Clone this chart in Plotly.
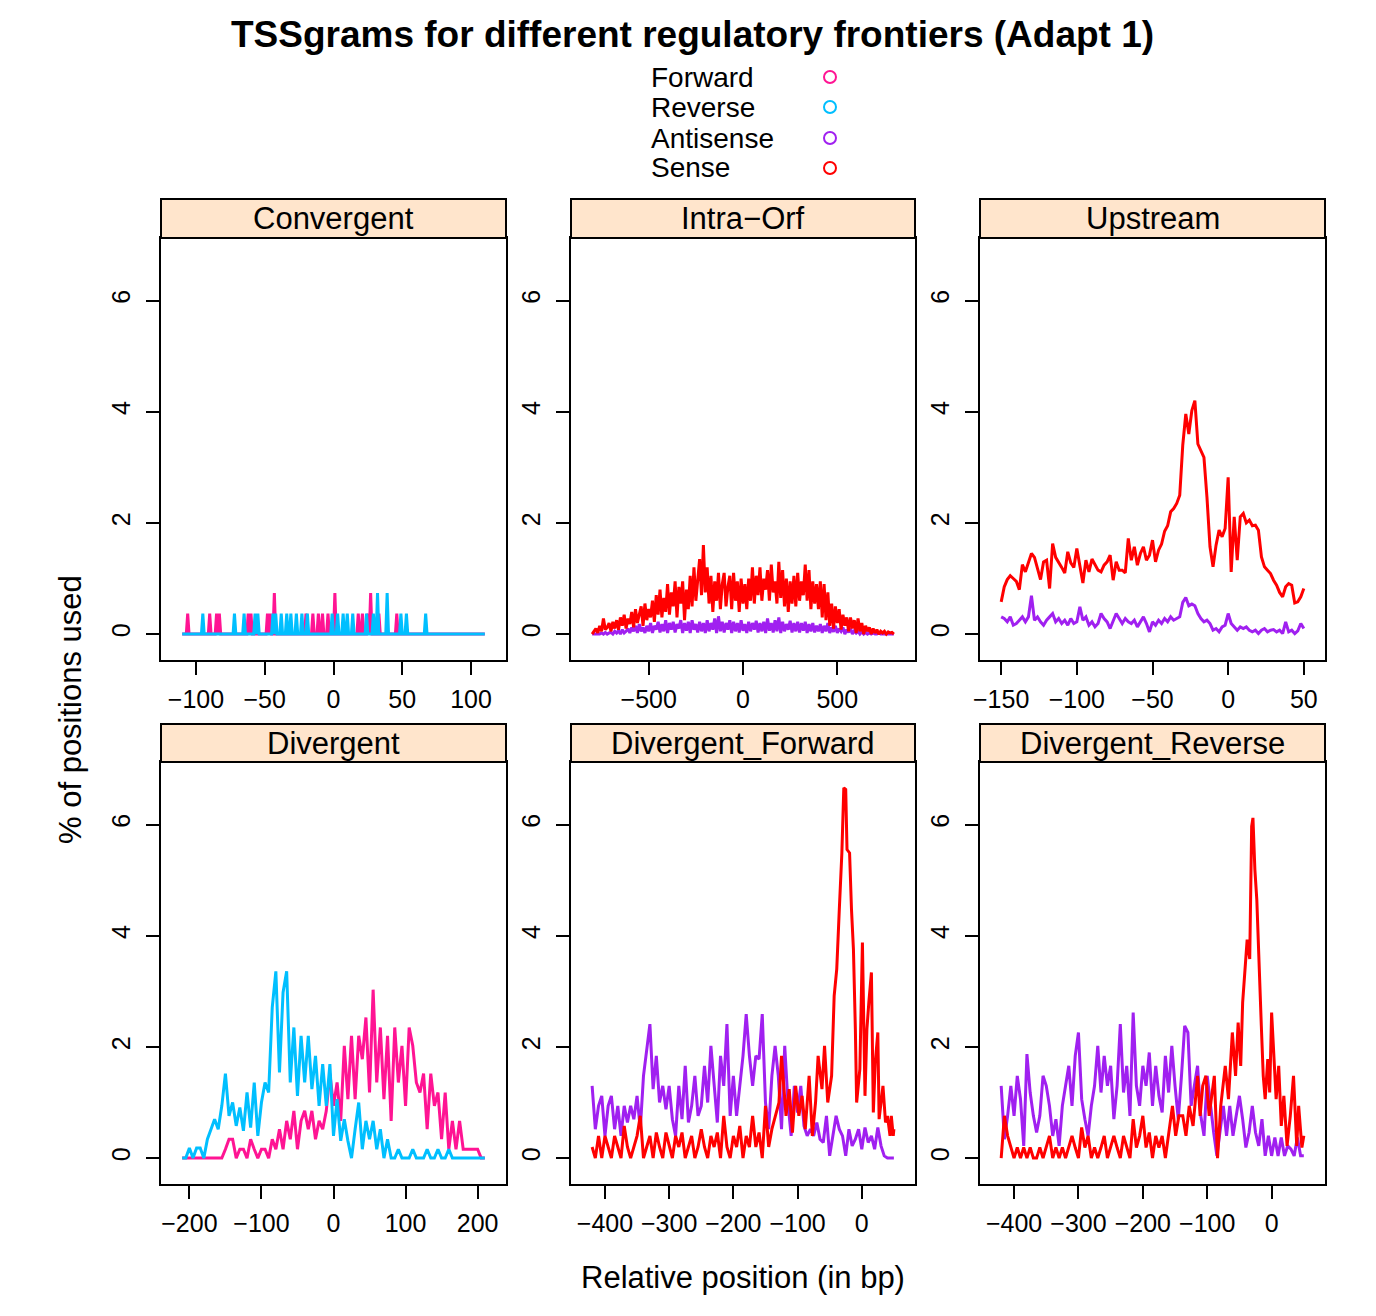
import plotly.graph_objects as go

W, H = 1376, 1316
FONT = "Liberation Sans"

FWD = "#FF1493"   # Forward
REV = "#00BFFF"   # Reverse
ANTI = "#A020F0"  # Antisense
SENSE = "#FF0000" # Sense

# ---------------- Convergent: 1 bp profile, zero except at these positions
conv_x = list(range(-110, 111))
conv_fwd_pos = [-106, -90, -85, -83, -62, -60, -48, -46, -43, -20, -15, -11, -8, -4,
                1, 18, 21, 25, 27, 33, 46]
conv_fwd_val = [0.37, 0.37, 0.37, 0.37, 0.37, 0.37, 0.37, 0.37, 0.74, 0.37, 0.37, 0.37, 0.37, 0.37,
                0.74, 0.37, 0.37, 0.37, 0.74, 0.37, 0.37]
conv_rev_pos = [-95, -72, -65, -57, -55, -44, -42, -38, -34, -31, -27, -23, -19, -1, 3, 7, 10,
                14, 24, 29, 32, 39, 49, 53, 67]
conv_rev_val = [0.37, 0.37, 0.37, 0.37, 0.37, 0.37, 0.37, 0.37, 0.37, 0.37, 0.37, 0.37, 0.37,
                0.37, 0.37, 0.37, 0.37, 0.37, 0.37, 0.37, 0.74, 0.74, 0.37, 0.37, 0.37]

# ---------------- Intra-Orf: every 10 bp from -800 to 800
orf_x = list(range(-800, 801, 10))
orf_sense = [
    0.0, 0.05, 0.1, 0.02, 0.15, 0.05, 0.28, 0.08, 0.12, 0.2,
    0.05, 0.22, 0.1, 0.25, 0.08, 0.3, 0.15, 0.35, 0.1, 0.28,
    0.18, 0.4, 0.12, 0.45, 0.2, 0.35, 0.5, 0.15, 0.55, 0.25,
    0.45, 0.3, 0.6, 0.22, 0.7, 0.35, 0.8, 0.3, 0.65, 0.4,
    0.9, 0.35, 0.75, 0.5, 0.95, 0.3, 0.85, 0.55, 0.95, 0.25,
    0.8, 0.45, 1.05, 0.5, 1.2, 0.6, 0.95, 1.35, 0.7, 1.6,
    0.75, 1.2, 0.55, 1.05, 0.4, 0.95, 0.6, 1.1, 0.45, 0.9,
    1.1, 0.5, 0.85, 1.05, 0.45, 1.1, 0.6, 0.95, 0.4, 1.0,
    0.55, 0.9, 0.45, 1.0, 0.6, 1.2, 0.55, 1.05, 0.7, 1.2,
    0.6, 1.0, 0.8, 1.15, 0.6, 1.25, 0.75, 0.95, 0.55, 1.3,
    0.65, 1.15, 0.5, 1.0, 0.4, 0.95, 0.55, 1.05, 0.5, 1.1,
    0.6, 0.95, 0.7, 1.25, 0.6, 1.15, 0.45, 0.95, 0.55, 0.9,
    0.45, 0.95, 0.3, 0.9, 0.25, 0.75, 0.15, 0.55, 0.1, 0.5,
    0.2, 0.45, 0.08, 0.35, 0.15, 0.3, 0.05, 0.3, 0.1, 0.25,
    0.02, 0.28, 0.05, 0.2, 0.0, 0.15, 0.05, 0.12, 0.0, 0.1,
    0.02, 0.08, 0.0, 0.05, 0.02, 0.05, 0.0, 0.04, 0.02, 0.03,
    0.0,
]
orf_anti = [
    0, 0, 0, 0, 0, 0.02, 0, 0.03, 0, 0.02,
    0.03, 0, 0.05, 0.02, 0.06, 0.0, 0.08, 0.02, 0.05, 0.1,
    0.02, 0.12, 0.05, 0.15, 0.02, 0.18, 0.05, 0.12, 0.02, 0.15,
    0.05, 0.2, 0.02, 0.15, 0.08, 0.22, 0.03, 0.18, 0.05, 0.25,
    0.02, 0.2, 0.08, 0.22, 0.03, 0.18, 0.1, 0.25, 0.02, 0.2,
    0.06, 0.22, 0.02, 0.25, 0.08, 0.18, 0.03, 0.22, 0.05, 0.2,
    0.02, 0.25, 0.05, 0.2, 0.08, 0.28, 0.02, 0.32, 0.05, 0.22,
    0.03, 0.2, 0.08, 0.25, 0.02, 0.22, 0.05, 0.2, 0.03, 0.25,
    0.06, 0.18, 0.02, 0.22, 0.05, 0.2, 0.08, 0.24, 0.03, 0.2,
    0.05, 0.22, 0.02, 0.28, 0.06, 0.2, 0.03, 0.25, 0.05, 0.3,
    0.02, 0.22, 0.05, 0.18, 0.08, 0.24, 0.03, 0.2, 0.05, 0.22,
    0.03, 0.2, 0.06, 0.22, 0.02, 0.18, 0.05, 0.2, 0.03, 0.15,
    0.05, 0.18, 0.02, 0.15, 0.05, 0.2, 0.02, 0.12, 0.04, 0.15,
    0.02, 0.1, 0.05, 0.12, 0.0, 0.08, 0.03, 0.1, 0.0, 0.06,
    0.02, 0.05, 0.0, 0.04, 0.0, 0.03, 0.0, 0.02, 0.0, 0.02,
    0, 0, 0.02, 0, 0, 0, 0, 0, 0, 0,
    0,
]

# ---------------- Upstream: every 2 bp from -150 to 50
up_x = list(range(-150, 51, 2))
up_sense = [
    0.58, 0.85, 0.98, 1.05, 1.0, 0.95, 0.80, 1.25, 1.12, 1.30,
    1.45, 1.38, 1.20, 0.98, 1.30, 1.33, 0.82, 1.63, 1.38, 1.30,
    1.20, 1.10, 1.48, 1.28, 1.20, 1.54, 1.20, 0.92, 1.33, 1.12,
    1.35, 1.25, 1.15, 1.12, 1.24, 1.30, 1.42, 0.97, 1.30, 1.15,
    1.15, 1.10, 1.72, 1.33, 1.57, 1.24, 1.45, 1.57, 1.33, 1.42,
    1.69, 1.30, 1.51, 1.62, 1.85, 1.95, 2.20, 2.26, 2.35, 2.50,
    3.40, 3.96, 3.60, 4.02, 4.20, 3.42, 3.30, 3.18, 2.46, 1.57,
    1.21, 1.60, 1.87, 1.75, 1.90, 2.82, 1.12, 2.11, 1.33, 2.11,
    2.17, 2.00, 2.05, 1.95, 1.96, 1.87, 1.39, 1.21, 1.15, 1.09,
    0.97, 0.88, 0.75, 0.67, 0.85, 0.91, 0.88, 0.56, 0.58, 0.67,
    0.82,
]
up_anti = [
    0.31, 0.28, 0.22, 0.31, 0.16, 0.19, 0.25, 0.31, 0.22, 0.31,
    0.69, 0.25, 0.31, 0.22, 0.16, 0.25, 0.31, 0.37, 0.22, 0.28,
    0.19, 0.25, 0.16, 0.28, 0.19, 0.22, 0.49, 0.25, 0.31, 0.16,
    0.22, 0.13, 0.19, 0.37, 0.28, 0.22, 0.10, 0.25, 0.37, 0.28,
    0.19, 0.28, 0.22, 0.19, 0.25, 0.13, 0.22, 0.31, 0.19, 0.04,
    0.22, 0.16, 0.25, 0.19, 0.28, 0.22, 0.31, 0.25, 0.28, 0.31,
    0.57, 0.66, 0.51, 0.54, 0.51, 0.37, 0.28, 0.22, 0.25, 0.19,
    0.07, 0.10, 0.04, 0.13, 0.16, 0.37, 0.19, 0.13, 0.07, 0.13,
    0.10, 0.13, 0.07, 0.04, 0.07, 0.01, 0.07, 0.10, 0.04, 0.07,
    0.08, 0.04, 0.07, 0.01, 0.22, 0.04, 0.07, 0.01, 0.06, 0.19,
    0.10,
]

# ---------------- Divergent: every 5 bp from -210 to 210
div_x = list(range(-210, 211, 5))
div_fwd = [
    0, 0, 0, 0, 0, 0, 0, 0, 0, 0,
    0, 0, 0.16, 0.34, 0.34, 0.0, 0.16, 0.16, 0.0, 0.34,
    0.16, 0.0, 0.16, 0.16, 0.0, 0.34, 0.16, 0.52, 0.16, 0.67,
    0.34, 0.85, 0.16, 0.67, 0.85, 0.52, 0.85, 0.34, 0.67, 0.52,
    0.85, 1.52, 0.94, 1.36, 0.67, 2.02, 1.06, 2.20, 1.06, 2.20,
    1.78, 2.53, 1.18, 3.03, 1.36, 2.35, 1.06, 2.20, 0.67, 2.35,
    1.36, 2.02, 0.94, 2.35, 2.02, 1.36, 1.18, 1.52, 0.52, 1.52,
    0.94, 1.18, 0.34, 1.18, 0.16, 0.67, 0.16, 0.67, 0.16, 0.16,
    0.16, 0.16, 0.16, 0, 0,
]
div_rev = [
    0, 0, 0.18, 0, 0.18, 0.18, 0.0, 0.34, 0.52, 0.70,
    0.52, 0.94, 1.52, 0.76, 1.0, 0.58, 0.91, 0.49, 1.18, 0.55,
    1.36, 0.40, 1.0, 1.36, 1.18, 2.71, 3.36, 1.54, 2.98, 3.36,
    1.36, 2.35, 1.12, 2.20, 1.36, 2.20, 1.24, 1.84, 0.94, 1.69,
    0.94, 1.69, 0.40, 1.06, 0.31, 0.70, 0.31, 0.0, 0.52, 1.0,
    0.16, 0.67, 0.34, 0.67, 0.16, 0.52, 0.0, 0.34, 0.0, 0.0,
    0.16, 0, 0, 0, 0.16, 0, 0, 0, 0.16, 0,
    0, 0.16, 0, 0, 0.16, 0, 0, 0, 0, 0,
    0, 0, 0, 0, 0,
]

# ---------------- Divergent_Forward: antisense every 5 bp, sense denser near the peak
dfw_anti_x = list(range(-420, 51, 5))
dfw_anti = [
    1.30, 0.52, 0.94, 1.12, 0.40, 0.94, 1.12, 0.52, 0.94, 0.40,
    0.94, 0.64, 0.94, 0.70, 1.12, 0.52, 1.48, 1.90, 2.41, 1.24,
    1.84, 1.00, 1.30, 0.88, 1.30, 0.70, 0.40, 1.30, 0.70, 1.66,
    0.64, 0.94, 1.48, 0.76, 0.94, 1.66, 1.00, 2.02, 1.30, 0.64,
    1.84, 1.30, 2.41, 0.76, 1.48, 0.76, 1.30, 1.84, 2.59, 1.84,
    1.30, 1.84, 1.78, 2.59, 1.00, 0.52, 1.48, 2.02, 1.48, 0.52,
    2.02, 1.00, 0.40, 1.30, 0.82, 1.30, 0.58, 0.40, 0.52, 0.40,
    0.64, 0.34, 0.28, 0.76, 0.04, 0.40, 0.76, 0.52, 0.40, 0.04,
    0.52, 0.22, 0.34, 0.52, 0.16, 0.55, 0.28, 0.40, 0.16, 0.55,
    0.22, 0.04, 0.0, 0.0, 0.0,
]
dfw_sense_x = list(range(-420, -139, 5)) + [
    -134, -129, -125, -118, -113, -108, -103, -98, -93, -88,
    -82, -77, -72, -68, -62, -58, -53, -47, -43, -39,
    -35, -31, -28, -25, -23, -19, -16, -13, -10, -8,
    -3, 1, 5, 8, 11, 15, 18, 21, 25, 27,
    33, 37, 40, 44, 46, 49, 50,
]
dfw_sense = [
    0.2, 0.0, 0.4, 0.0, 0.4, 0.2, 0.0, 0.4, 0.2, 0.0,
    0.58, 0.2, 0.0, 0.2, 0.4, 0.76, 0.0, 0.2, 0.4, 0.0,
    0.46, 0.2, 0.0, 0.46, 0.2, 0.0, 0.4, 0.2, 0.46, 0.0,
    0.2, 0.4, 0.0, 0.2, 0.52, 0.2, 0.0, 0.4, 0.2, 0.46,
    0.0, 0.76, 0.2, 0.0, 0.4, 0.2, 0.58, 0.0, 0.4, 0.2,
    0.76, 0.2, 0.46, 0.0, 0.94, 0.2, 0.52,
    0.76, 1.0, 1.84, 0.76, 1.24, 0.46, 1.3, 0.76, 1.12, 0.52,
    1.48, 0.40, 1.0, 1.84, 1.24, 2.02, 1.0, 1.48, 2.92, 3.4,
    4.47, 5.49, 6.66, 6.63, 5.55, 5.49, 4.47, 3.76, 2.32, 1.0,
    1.6, 3.88, 1.12, 2.32, 2.8, 3.34, 0.82, 1.72, 2.26, 0.7,
    1.3, 0.64, 0.76, 0.4, 0.76, 0.4, 0.52,
]

# ---------------- Divergent_Reverse
drv_anti_x = list(range(-420, 51, 5))
drv_anti = [
    1.30, 0.34, 0.76, 1.30, 0.76, 1.48, 1.06, 0.22, 1.87, 1.18,
    0.76, 0.46, 0.76, 1.48, 1.30, 0.94, 0.40, 0.70, 0.22, 0.94,
    1.30, 1.66, 0.94, 1.84, 2.26, 1.06, 0.70, 0.40, 0.94, 1.30,
    2.02, 1.18, 1.84, 1.30, 1.66, 0.70, 1.30, 2.41, 1.18, 1.66,
    0.76, 2.62, 1.30, 0.94, 1.66, 1.30, 1.90, 0.94, 1.66, 1.12,
    0.82, 1.84, 1.18, 2.02, 1.30, 0.70, 1.48, 2.38, 2.26, 0.94,
    1.30, 1.66, 0.76, 0.40, 1.48, 0.94, 0.46, 0.04, 0.52, 0.94,
    0.40, 0.94, 0.40, 0.76, 1.12, 0.70, 0.19, 0.46, 0.94, 0.46,
    0.22, 0.70, 0.04, 0.40, 0.04, 0.37, 0.04, 0.37, 0.04, 0.22,
    0.16, 0.04, 0.37, 0.04, 0.04,
]
drv_sense_x = list(range(-420, -159, 5)) + [
    -154, -149, -144, -138, -133, -128, -122, -115, -111, -107,
    -102, -97, -93, -89, -84, -79, -72, -67, -61, -56,
    -52, -48, -45, -41, -38, -34, -31, -29, -26, -23,
    -21, -18, -16, -13, -10, -6, -3, 0, 3, 7,
    11, 15, 19, 24, 29, 34, 39, 42, 47, 50,
]
drv_sense = [
    0.0, 0.76, 0.4, 0.19, 0.0, 0.19, 0.0, 0.19, 0.0, 0.19,
    0.0, 0.0, 0.19, 0.0, 0.19, 0.4, 0.0, 0.19, 0.0, 0.19,
    0.0, 0.19, 0.4, 0.19, 0.0, 0.55, 0.19, 0.4, 0.0, 0.19,
    0.0, 0.19, 0.4, 0.0, 0.19, 0.4, 0.19, 0.0, 0.4, 0.19,
    0.0, 0.70, 0.19, 0.4, 0.76, 0.19, 0.46, 0.0, 0.4, 0.19,
    0.4, 0.0, 0.46,
    0.94, 0.4, 0.76, 0.76, 0.4, 0.94, 0.58, 1.48, 0.76, 1.30,
    1.48, 0.76, 1.1, 1.48, 0.0, 0.94, 1.66, 1.06, 2.26, 1.48,
    2.44, 1.66, 2.80, 3.46, 3.93, 3.58, 5.97, 6.12, 5.19, 4.65,
    3.93, 2.86, 2.38, 1.48, 1.06, 1.78, 1.18, 2.62, 1.84, 1.06,
    1.66, 0.58, 1.12, 0.22, 0.76, 1.48, 0.22, 0.94, 0.19, 0.40,
]


def spikes(xs, pos, val):
    lookup = dict(zip(pos, val))
    return [lookup.get(x, 0.0) for x in xs]


conv_fwd = spikes(conv_x, conv_fwd_pos, conv_fwd_val)
conv_rev = spikes(conv_x, conv_rev_pos, conv_rev_val)

# panel layout in pixels (plot box) and strip rows
cols = [(161, 506), (571, 915), (980, 1325)]
rows = [(238, 660), (762, 1184)]
strip_rows = [(199, 238), (724, 762)]
YRANGE = [-0.466, 7.126]

panels = [
    dict(name="Convergent", r=0, c=0, xr=[-125.4, 125.4], xt=[-100, -50, 0, 50, 100],
         series=[(conv_x, conv_fwd, FWD), (conv_x, conv_rev, REV)]),
    dict(name="Intra\u2212Orf", r=0, c=1, xr=[-912, 912], xt=[-500, 0, 500],
         series=[(orf_x, orf_anti, ANTI), (orf_x, orf_sense, SENSE)]),
    dict(name="Upstream", r=0, c=2, xr=[-164, 64], xt=[-150, -100, -50, 0, 50],
         series=[(up_x, up_anti, ANTI), (up_x, up_sense, SENSE)]),
    dict(name="Divergent", r=1, c=0, xr=[-239.4, 239.4], xt=[-200, -100, 0, 100, 200],
         series=[(div_x, div_fwd, FWD), (div_x, div_rev, REV)]),
    dict(name="Divergent_Forward", r=1, c=1, xr=[-452.9, 82.9], xt=[-400, -300, -200, -100, 0],
         series=[(dfw_anti_x, dfw_anti, ANTI), (dfw_sense_x, dfw_sense, SENSE)]),
    dict(name="Divergent_Reverse", r=1, c=2, xr=[-452.9, 82.9], xt=[-400, -300, -200, -100, 0],
         series=[(drv_anti_x, drv_anti, ANTI), (drv_sense_x, drv_sense, SENSE)]),
]


def fx(p):
    return p / W


def fy(p):
    return 1 - p / H


fig = go.Figure()
layout = {}
shapes = []
annotations = []

tickfont = dict(family=FONT, size=25, color="black")

for i, p in enumerate(panels, 1):
    xa = "x" if i == 1 else f"x{i}"
    ya = "y" if i == 1 else f"y{i}"
    xk = "xaxis" if i == 1 else f"xaxis{i}"
    yk = "yaxis" if i == 1 else f"yaxis{i}"
    x0, x1 = cols[p["c"]]
    y0, y1 = rows[p["r"]]
    for xs, ys, colr in p["series"]:
        fig.add_trace(go.Scatter(x=xs, y=ys, mode="lines", xaxis=xa, yaxis=ya,
                                 line=dict(color=colr, width=3), showlegend=False,
                                 hoverinfo="skip"))
    common = dict(showline=True, mirror=True, linecolor="black", linewidth=2,
                  ticks="outside", ticklen=13, tickwidth=2, tickcolor="black",
                  showgrid=False, zeroline=False, tickfont=tickfont, fixedrange=True,
                  automargin=False)
    layout[xk] = dict(domain=[fx(x0), fx(x1)], range=p["xr"], anchor=ya,
                      tickmode="array", tickvals=p["xt"], ticklabelstandoff=3, **common)
    layout[yk] = dict(domain=[fy(y1), fy(y0)], range=YRANGE, anchor=xa,
                      tickmode="array", tickvals=[0, 2, 4, 6], tickangle=-90,
                      ticklabelstandoff=6, **common)
    sy0, sy1 = strip_rows[p["r"]]
    shapes.append(dict(type="rect", xref="paper", yref="paper",
                       x0=fx(x0), x1=fx(x1), y0=fy(sy1), y1=fy(sy0),
                       fillcolor="#FFE5CC", line=dict(color="black", width=2), layer="above"))
    annotations.append(dict(text=p["name"], xref="paper", yref="paper",
                            x=fx((x0 + x1) / 2), y=fy((sy0 + sy1) / 2),
                            xanchor="center", yanchor="middle", showarrow=False,
                            font=dict(family=FONT, size=31, color="black")))

# title
annotations.append(dict(text="TSSgrams for different regulatory frontiers (Adapt 1)",
                        xref="paper", yref="paper", x=fx(693), y=fy(35),
                        xanchor="center", yanchor="middle", showarrow=False,
                        font=dict(family=FONT, size=37, color="black", weight="bold")))

# key: labels with open circles on the right
key_labels = ["Forward", "Reverse", "Antisense", "Sense"]
key_colors = [FWD, REV, ANTI, SENSE]
key_rows = [77, 107, 138, 168]
for lab, colr, yy in zip(key_labels, key_colors, key_rows):
    annotations.append(dict(text=lab, xref="paper", yref="paper", x=fx(650), y=fy(yy),
                            xanchor="left", yanchor="middle", showarrow=False, borderpad=0,
                            font=dict(family=FONT, size=28, color="black")))
    shapes.append(dict(type="circle", xref="paper", yref="paper",
                       x0=fx(830 - 6), x1=fx(830 + 6), y0=fy(yy + 6), y1=fy(yy - 6),
                       line=dict(color=colr, width=2)))

# axis titles
annotations.append(dict(text="% of positions used", xref="paper", yref="paper",
                        x=fx(70), y=fy(710), textangle=-90,
                        xanchor="center", yanchor="middle", showarrow=False,
                        font=dict(family=FONT, size=31, color="black")))
annotations.append(dict(text="Relative position (in bp)", xref="paper", yref="paper",
                        x=fx(743), y=fy(1277),
                        xanchor="center", yanchor="middle", showarrow=False,
                        font=dict(family=FONT, size=31, color="black")))

fig.update_layout(width=W, height=H, margin=dict(l=0, r=0, t=0, b=0, autoexpand=False),
                  paper_bgcolor="white", plot_bgcolor="white",
                  shapes=shapes, annotations=annotations, showlegend=False, **layout)

fig.write_html("out.html")
